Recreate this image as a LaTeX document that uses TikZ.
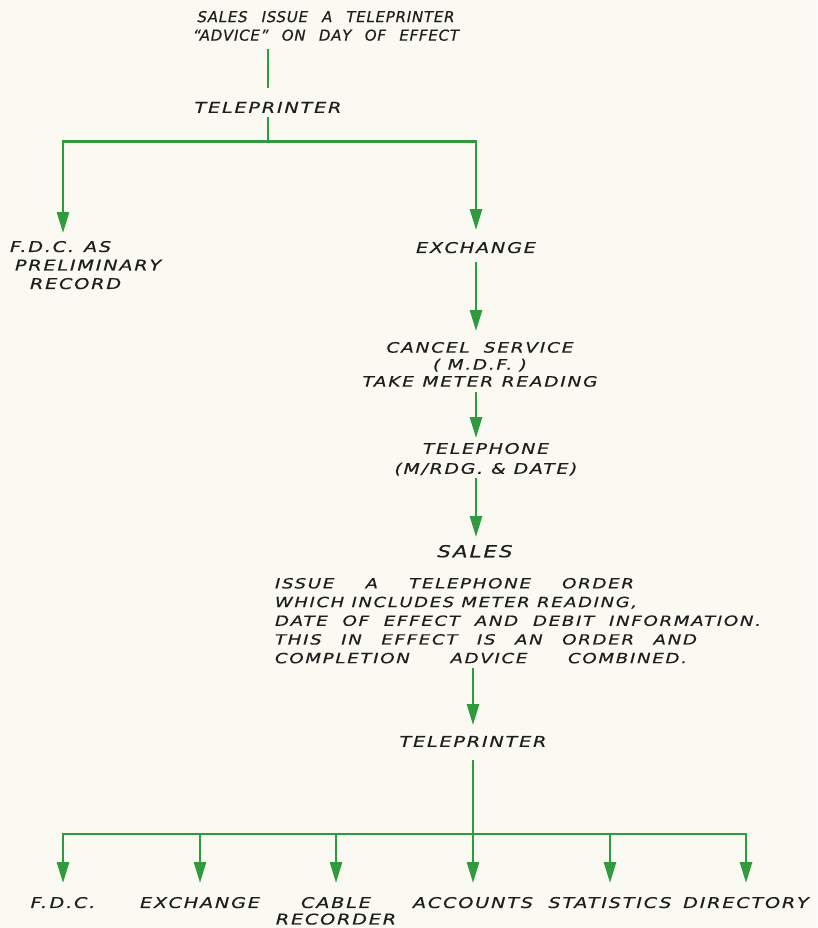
\documentclass[tikz,border=0pt]{standalone}
\usepackage{fontspec}
\usepackage{graphicx}
% wide, slanted lettering
\newfontfamily\lett[LetterSpace=12,FakeStretch=1.3,FakeBold=0.5]{DejaVu Sans Oblique}
\newfontfamily\lettn[LetterSpace=5,FakeStretch=1.0,FakeBold=0.5]{DejaVu Sans Oblique}
\usetikzlibrary{arrows.meta}
\definecolor{paper}{HTML}{FAF9F2}
\definecolor{flow}{HTML}{2F9A3E}
\definecolor{ink}{HTML}{1E1E1E}
% a line of lettering set to a given width (pt): word gaps stretch,
% or the whole line is narrowed if it is too long
\newlength\spreadnat
\newcommand{\spread}[2]{%
  \settowidth{\spreadnat}{#2}%
  \ifdim\spreadnat>#1pt
    \pgfmathsetmacro\spreadratio{#1/\spreadnat}%
    \scalebox{\spreadratio}[1]{#2}%
  \else
    \makebox[#1pt][s]{#2}%
  \fi}
\tikzset{
  lbl/.style={font=\lett\fontsize{14.8}{18.5}\selectfont, text=ink,
              inner sep=0pt, outer sep=0pt, align=center},
  txthead/.style={font=\lettn\fontsize{15}{18.5}\selectfont},
  txtpara/.style={font=\lett\fontsize{14}{18.7}\selectfont},
  txtmid/.style={font=\lett\fontsize{14.3}{17}\selectfont},
  txtbig/.style={font=\lett\fontsize{16.5}{20}\selectfont},
  flowline/.style={draw=flow, line width=2.6pt},
  arr/.style={flowline, -{Triangle[length=21pt,width=12pt]}},
}
\begin{document}
\begin{tikzpicture}[x=1pt,y=-1pt]
\fill[paper] (0,0) rectangle (817,928);
\useasboundingbox (0,0) rectangle (817,928);

% ---- labels ----
\node[lbl, txthead, anchor=north] (head) at (326,11)
  {\spread{257}{SALES ISSUE A TELEPRINTER}\\\spread{266}{“ADVICE” ON DAY OF EFFECT}};
\node[lbl, anchor=north] (tp1) at (268,102) {TELEPRINTER};
\node[lbl, anchor=north west, align=left] (fdc1) at (10,241)
  {F.D.C.\hspace{10pt}AS\\\hspace{5pt}PRELIMINARY\\\hspace{20pt}RECORD};
\node[lbl, anchor=north] (exch1) at (476,242) {EXCHANGE};
\node[lbl, txtmid, anchor=north] (cancel) at (480,342)
  {\spread{187}{CANCEL SERVICE}\\\spread{94}{( M.D.F. )}\\\spread{235}{TAKE METER READING}};
\node[lbl, anchor=north, font=\lett\fontsize{14.5}{20}\selectfont] (phone) at (486,443)
  {TELEPHONE\\\spread{183}{(M/RDG. \& DATE)}};
\node[lbl, txtbig, anchor=north] (sales) at (475,545) {SALES};
\node[lbl, txtpara, anchor=north west, align=left] (order) at (275,578)
  {\spread{359}{ISSUE A TELEPHONE ORDER}\\
   \spread{362}{WHICH INCLUDES METER READING,}\\
   \spread{486}{DATE OF EFFECT AND DEBIT INFORMATION.}\\
   \spread{422}{THIS IN EFFECT IS AN ORDER AND}\\
   \spread{412}{COMPLETION ADVICE COMBINED.}};
\node[lbl, anchor=north] (tp2) at (473,736) {TELEPRINTER};

\node[lbl, anchor=north] (b1) at (63,897) {F.\,D.C.};
\node[lbl, anchor=north] (b2) at (200,897) {EXCHANGE};
\node[lbl, anchor=north, font=\lett\fontsize{14.8}{16.5}\selectfont] (b3) at (336,897) {CABLE\\RECORDER};
\node[lbl, anchor=north] (b4) at (473,897) {ACCOUNTS};
\node[lbl, anchor=north] (b5) at (610,897) {STATISTICS};
\node[lbl, anchor=north] (b6) at (746,897) {DIRECTORY};

% ---- connectors ----
\coordinate (spine) at (476,0);
\path (tp1.south) ++(0,29) coordinate (j1);
\coordinate (t1) at (63,233);
\coordinate (j2) at (473,834);

\draw[flowline, shorten <=8pt, shorten >=14pt] (tp1.north |- head.south) -- (tp1.north);
\draw[flowline, shorten <=4pt] (tp1.south) -- (j1);
\draw[arr] (j1) -| (t1);
\draw[arr, shorten >=12pt] (j1) -| (spine |- exch1.north);
\draw[arr, shorten <=9pt, shorten >=11pt] (spine |- exch1.south) -- (spine |- cancel.north);
\draw[arr, shorten <=5pt, shorten >=5pt] (spine |- cancel.south) -- (spine |- phone.north);
\draw[arr, shorten <=2pt, shorten >=8pt] (spine |- phone.south) -- (spine |- sales.north);
\draw[arr, shorten <=5pt, shorten >=11pt] (tp2.north |- order.south) -- (tp2.north);
\draw[flowline, shorten <=13pt] (tp2.south) -- (j2);

\draw[arr, shorten >=14pt] (j2) -| (b1.north);
\draw[arr, shorten >=14pt] (j2) -| (b6.north);
\foreach \b in {b2,b3,b4,b5}
  \draw[arr, shorten >=14pt] (\b.north |- j2) -- (\b.north);
\end{tikzpicture}
\end{document}
